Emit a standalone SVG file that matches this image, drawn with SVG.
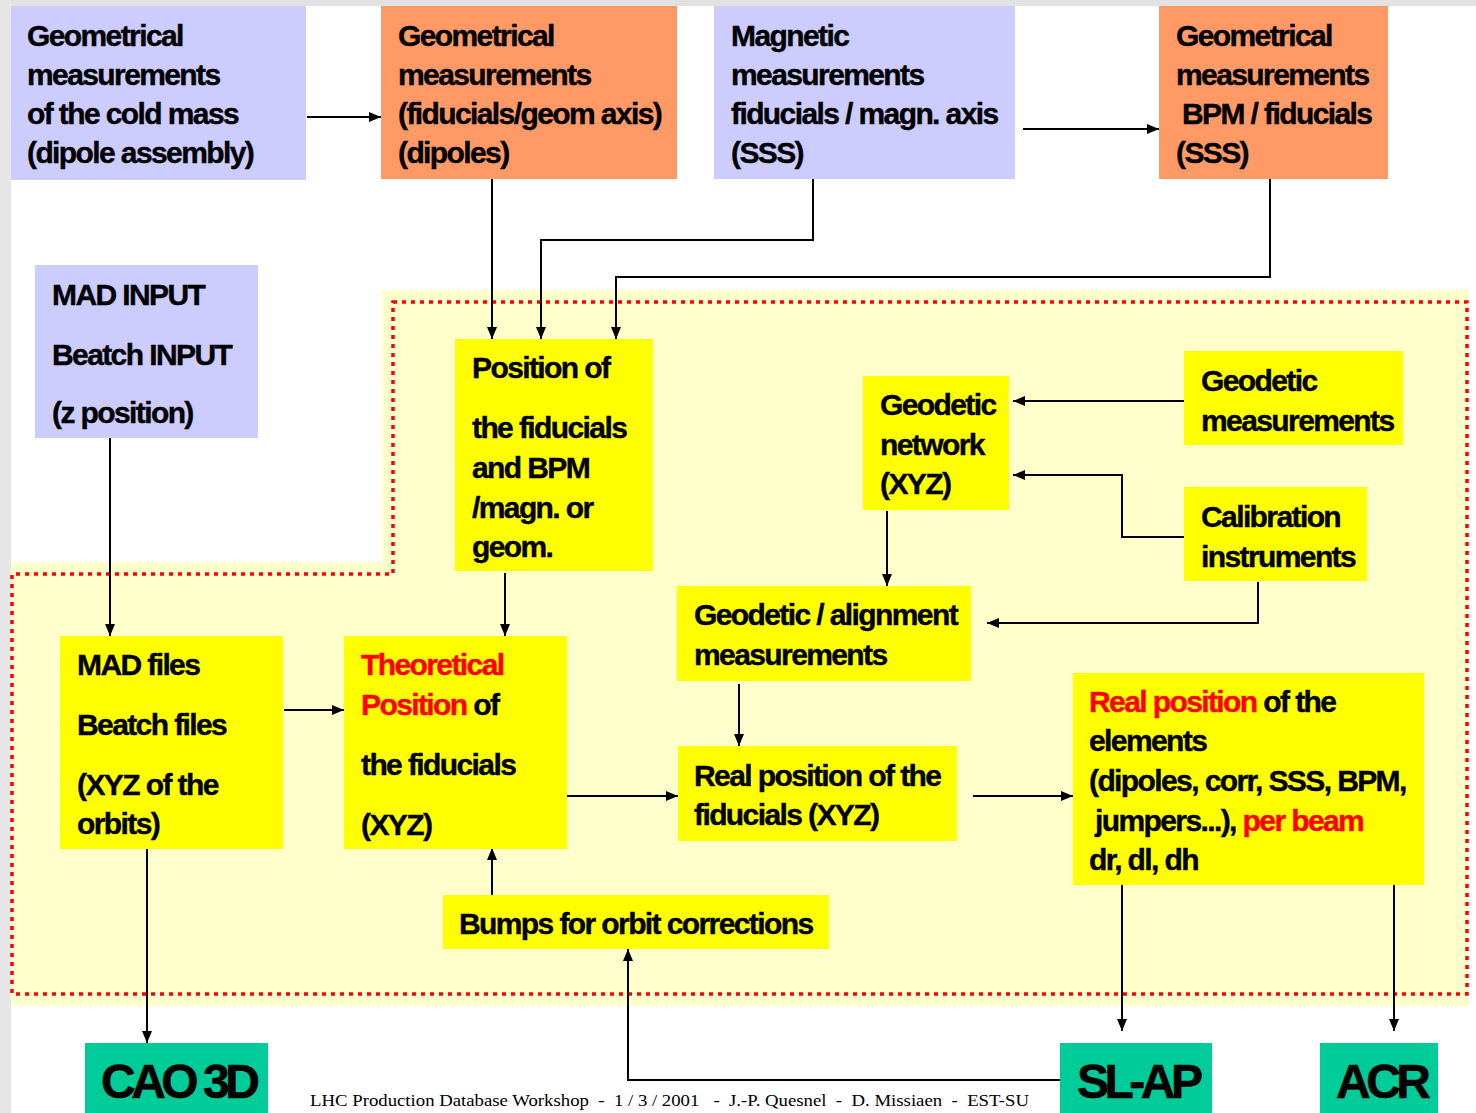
<svg xmlns="http://www.w3.org/2000/svg" width="1476" height="1113" viewBox="0 0 1476 1113">
<style>
.t{font-family:"Liberation Sans",Arial,sans-serif;font-weight:bold;font-size:30px;letter-spacing:-1.6px;fill:#000;stroke:#000;stroke-width:0.4}
.r{fill:#FF0000;stroke:#FF0000}
.big{font-family:"Liberation Sans",Arial,sans-serif;font-weight:bold;font-size:48px;letter-spacing:-4.5px;fill:#000;stroke:#000;stroke-width:0.6}
.lav{fill:#CCCCFF}
.sal{fill:#FF9966}
.yel{fill:#FFFF00}
.grn{fill:#00CC99}
.c{fill:none;stroke:#000;stroke-width:2}
.foot{font-family:"Liberation Serif","Times New Roman",serif;font-size:17px;fill:#000;white-space:pre}
</style>
<defs>
<marker id="ah" markerUnits="userSpaceOnUse" markerWidth="13" markerHeight="11" refX="12" refY="5.5" orient="auto">
<path d="M0,0.5 L12,5.5 L0,10.5 z" fill="#000"/>
</marker>
</defs>
<rect x="0" y="0" width="1476" height="1113" fill="#FFFFFF"/>
<rect x="0" y="0" width="1476" height="6" fill="#E2E2E2"/>
<rect x="0" y="0" width="11" height="1113" fill="#E6E6E6"/>
<g id="background-zone">
<path d="M382,290 H1468 V1006 H11 V562 H382 Z" fill="#FFFFCC"/>
<path d="M393,302 H1467 V994 H12 V574 H393 Z" fill="none" stroke="#FF0000" stroke-width="3.5" stroke-dasharray="4 5"/>
</g>
<g id="connectors">
<path class="c" d="M307,117 H381" marker-end="url(#ah)"/>
<path class="c" d="M1023,129 H1159" marker-end="url(#ah)"/>
<path class="c" d="M492,179 V339" marker-end="url(#ah)"/>
<path class="c" d="M813,179 V240 H541 V339" marker-end="url(#ah)"/>
<path class="c" d="M1270,179 V277 H616 V339" marker-end="url(#ah)"/>
<path class="c" d="M110,438 V636" marker-end="url(#ah)"/>
<path class="c" d="M505,573 V636" marker-end="url(#ah)"/>
<path class="c" d="M284,710 H344" marker-end="url(#ah)"/>
<path class="c" d="M1184,401 H1013" marker-end="url(#ah)"/>
<path class="c" d="M1184,537 H1122 V475 H1013" marker-end="url(#ah)"/>
<path class="c" d="M1258,582 V623 H987" marker-end="url(#ah)"/>
<path class="c" d="M887,511 V586" marker-end="url(#ah)"/>
<path class="c" d="M739,684 V746" marker-end="url(#ah)"/>
<path class="c" d="M567,796 H678" marker-end="url(#ah)"/>
<path class="c" d="M973,796 H1073" marker-end="url(#ah)"/>
<path class="c" d="M492,895 V848" marker-end="url(#ah)"/>
<path class="c" d="M147,849 V1043" marker-end="url(#ah)"/>
<path class="c" d="M1122,885 V1031" marker-end="url(#ah)"/>
<path class="c" d="M1394,885 V1031" marker-end="url(#ah)"/>
<path class="c" d="M1060,1080 H628 V949" marker-end="url(#ah)"/>
</g>
<g id="n-cold-mass">
<rect class="lav" x="11" y="6" width="295" height="174"/>
<text class="t" x="27" y="46">Geometrical</text>
<text class="t" x="27" y="85">measurements</text>
<text class="t" x="27" y="124">of the cold mass</text>
<text class="t" x="27" y="163">(dipole assembly)</text>
</g>
<g id="n-geom-dipoles">
<rect class="sal" x="381" y="6" width="296" height="173"/>
<text class="t" x="398" y="46">Geometrical</text>
<text class="t" x="398" y="85">measurements</text>
<text class="t" x="398" y="124">(fiducials/geom axis)</text>
<text class="t" x="398" y="163">(dipoles)</text>
</g>
<g id="n-magnetic">
<rect class="lav" x="714" y="6" width="301" height="173"/>
<text class="t" x="731" y="46">Magnetic</text>
<text class="t" x="731" y="85">measurements</text>
<text class="t" x="731" y="124">fiducials / magn. axis</text>
<text class="t" x="731" y="163">(SSS)</text>
</g>
<g id="n-geom-sss">
<rect class="sal" x="1159" y="6" width="229" height="173"/>
<text class="t" x="1176" y="46">Geometrical</text>
<text class="t" x="1176" y="85">measurements</text>
<text class="t" x="1182" y="124">BPM / fiducials</text>
<text class="t" x="1176" y="163">(SSS)</text>
</g>
<g id="n-mad-input">
<rect class="lav" x="35" y="265" width="223" height="173"/>
<text class="t" x="52" y="305">MAD INPUT</text>
<text class="t" x="52" y="365">Beatch INPUT</text>
<text class="t" x="52" y="423">(z position)</text>
</g>
<g id="n-position">
<rect class="yel" x="455" y="339" width="198" height="232"/>
<text class="t" x="472" y="378">Position of</text>
<text class="t" x="472" y="438">the fiducials</text>
<text class="t" x="472" y="478">and BPM</text>
<text class="t" x="472" y="518">/magn. or</text>
<text class="t" x="472" y="557">geom.</text>
</g>
<g id="n-geodetic-network">
<rect class="yel" x="863" y="376" width="146" height="134"/>
<text class="t" x="880" y="415">Geodetic</text>
<text class="t" x="880" y="455">network</text>
<text class="t" x="880" y="494">(XYZ)</text>
</g>
<g id="n-geodetic-meas">
<rect class="yel" x="1184" y="351" width="219" height="94"/>
<text class="t" x="1201" y="391">Geodetic</text>
<text class="t" x="1201" y="431">measurements</text>
</g>
<g id="n-calibration">
<rect class="yel" x="1184" y="487" width="183" height="94"/>
<text class="t" x="1201" y="527">Calibration</text>
<text class="t" x="1201" y="567">instruments</text>
</g>
<g id="n-alignment">
<rect class="yel" x="677" y="586" width="294" height="95"/>
<text class="t" x="694" y="625">Geodetic / alignment</text>
<text class="t" x="694" y="665">measurements</text>
</g>
<g id="n-mad-files">
<rect class="yel" x="60" y="636" width="223" height="213"/>
<text class="t" x="77" y="675">MAD files</text>
<text class="t" x="77" y="735">Beatch files</text>
<text class="t" x="77" y="795">(XYZ of the</text>
<text class="t" x="77" y="834">orbits)</text>
</g>
<g id="n-theoretical">
<rect class="yel" x="344" y="636" width="223" height="213"/>
<text class="t r" x="361" y="675">Theoretical</text>
<text class="t" x="361" y="715"><tspan class="r">Position</tspan> of</text>
<text class="t" x="361" y="775">the fiducials</text>
<text class="t" x="361" y="835">(XYZ)</text>
</g>
<g id="n-real-fiducials">
<rect class="yel" x="678" y="746" width="279" height="95"/>
<text class="t" x="694" y="786">Real position of the</text>
<text class="t" x="694" y="825">fiducials (XYZ)</text>
</g>
<g id="n-real-elements">
<rect class="yel" x="1073" y="673" width="351" height="212"/>
<text class="t" x="1089" y="712"><tspan class="r">Real position</tspan> of the</text>
<text class="t" x="1089" y="751">elements</text>
<text class="t" x="1089" y="791">(dipoles, corr, SSS, BPM,</text>
<text class="t" x="1095" y="831">jumpers...), <tspan class="r">per beam</tspan></text>
<text class="t" x="1089" y="870">dr, dl, dh</text>
</g>
<g id="n-bumps">
<rect class="yel" x="443" y="895" width="386" height="54"/>
<text class="t" x="459" y="934">Bumps for orbit corrections</text>
</g>
<g id="n-cao">
<rect class="grn" x="85" y="1043" width="183" height="70"/>
<text class="big" x="101" y="1098">CAO 3D</text>
</g>
<g id="n-slap">
<rect class="grn" x="1060" y="1043" width="152" height="70"/>
<text class="big" x="1077" y="1098">SL-AP</text>
</g>
<g id="n-acr">
<rect class="grn" x="1320" y="1043" width="118" height="70"/>
<text class="big" x="1336" y="1098">ACR</text>
</g>
<text class="foot" x="310" y="1106" textLength="719" lengthAdjust="spacingAndGlyphs">LHC Production Database Workshop  -  1 / 3 / 2001   -  J.-P. Quesnel  -  D. Missiaen  -  EST-SU</text>
</svg>
